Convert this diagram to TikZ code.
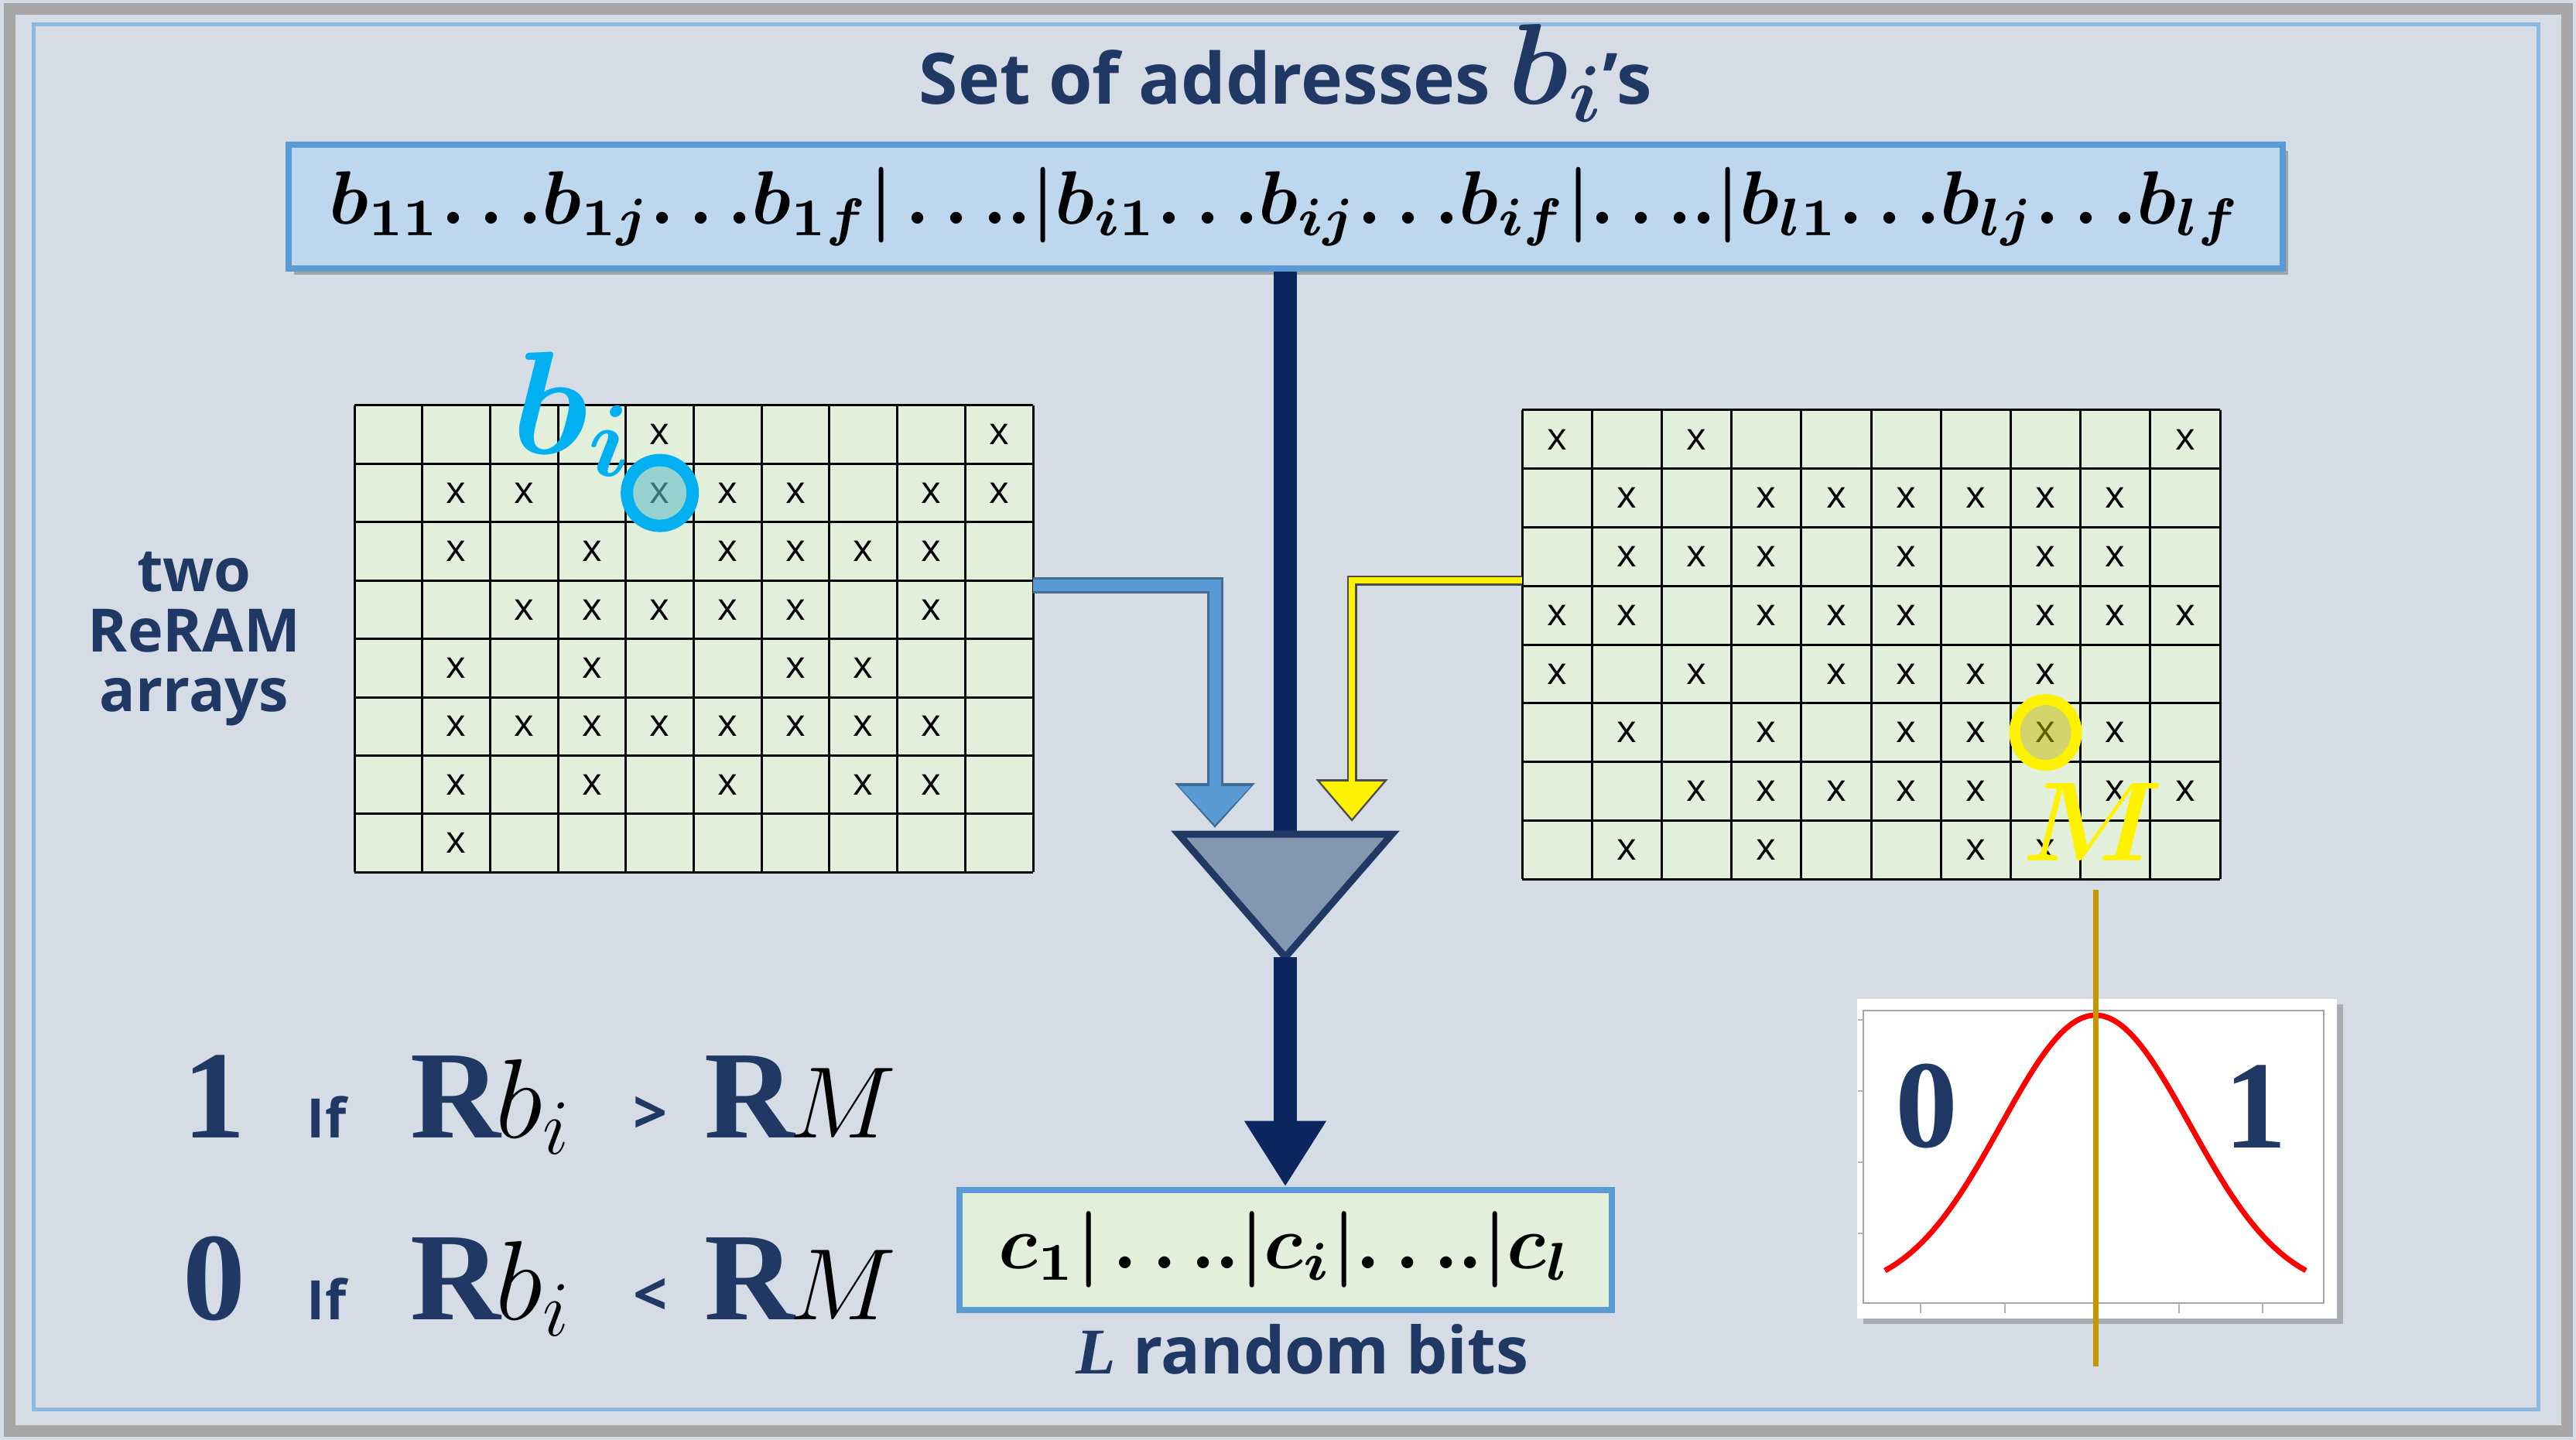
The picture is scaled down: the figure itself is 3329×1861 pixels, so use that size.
\documentclass[tikz,border=0pt]{standalone}
\usepackage{amsmath,bm,graphicx}
\usepackage{fontspec}
\setsansfont{Open Sans}
\newfontfamily\serifb{Liberation Serif}
\usetikzlibrary{shadows,arrows.meta,shapes.geometric}
\definecolor{bg}{HTML}{D6DCE5}
\definecolor{navy}{HTML}{1F3864}
\definecolor{darknavy}{HTML}{0C2660}
\definecolor{addrfill}{HTML}{BDD7EE}
\definecolor{boxline}{HTML}{5B9BD5}
\definecolor{cellfill}{HTML}{E2EFDA}
\definecolor{cyanb}{HTML}{00B0F0}
\definecolor{gold}{HTML}{C89600}
\definecolor{trifill}{HTML}{8497B0}
\newcommand{\fs}[1]{\fontsize{#1}{#1}\selectfont}
\begin{document}
\begin{tikzpicture}[x=0.1mm,y=-0.1mm,
  xm/.style={font=\sffamily\fs{14}, inner sep=0pt},
  gl/.style={line width=0.3mm, black},
  lbl/.style={font=\sffamily\bfseries\fs{26}, text=navy},
  big/.style={font=\serifb\bfseries\fs{46}, text=navy, inner sep=0pt},
  mth/.style={font=\fs{20}, inner sep=0pt}]
\useasboundingbox (0,0) rectangle (3329,1861);
\fill[bg] (0,0) rectangle (3329,1861);
\draw[gray!70, line width=1.5mm] (12,12) rectangle (3317,1849);
\draw[boxline!70, line width=0.5mm] (43,32) rectangle (3280,1821);

% title
\node[lbl, anchor=base] (title) at (1661,135) {Set of addresses \scalebox{1.7}{$\bm{b_i}$}'s};
% address box
\node[draw=boxline, line width=0.8mm, fill=addrfill, minimum width=257.7mm, minimum height=16mm, drop shadow={opacity=0.6}, inner sep=0pt] (addr) at (1661,267)
 {\resizebox{247mm}{!}{$\bm{b_{11}{\ldots}b_{1j}{\ldots}b_{1f}|\,{\ldots}.|b_{i1}{\ldots}b_{ij}{\ldots}b_{if}|{\ldots}.|b_{l1}{\ldots}b_{lj}{\ldots}b_{lf}}$}};

% grids
\begin{scope}[shift={(458,524)}]
\fill[cellfill] (0,0) rectangle (877,603);
\foreach \i in {0,...,10} \draw[gl] ({\i*87.7},0) -- ({\i*87.7},603);
\foreach \j in {0,...,8} \draw[gl] (0,{\j*75.4}) -- (877,{\j*75.4});
\foreach \r/\cols in {0/{4,9},1/{1,2,4,5,6,8,9},2/{1,3,5,6,7,8},3/{2,3,4,5,6,8},4/{1,3,6,7},5/{1,2,3,4,5,6,7,8},6/{1,3,5,7,8},7/{1}}
  \foreach \c in \cols \node[xm] at ({(\c+0.5)*87.7},{(\r+0.5)*75.4}) {x};
\node[circle, draw=cyanb, line width=1.6mm, fill=cyanb!35!teal!60, fill opacity=0.6, minimum size=8.5mm] (bcirc) at ({4.5*87.7},{1.5*75.4}) {};
\end{scope}
\node[font=\fs{20}, text=cyanb, inner sep=0pt] (bilbl) at (740,535) {\scalebox{2.6}{$\bm{b_i}$}};

\begin{scope}[shift={(1967,530)}]
\fill[cellfill] (0,0) rectangle (902,606);
\foreach \i in {0,...,10} \draw[gl] ({\i*90.2},0) -- ({\i*90.2},606);
\foreach \j in {0,...,8} \draw[gl] (0,{\j*75.75}) -- (902,{\j*75.75});
\foreach \r/\cols in {0/{0,2,9},1/{1,3,4,5,6,7,8},2/{1,2,3,5,7,8},3/{0,1,3,4,5,7,8,9},4/{0,2,4,5,6,7},5/{1,3,5,6,7,8},6/{2,3,4,5,6,8,9},7/{1,3,6,7}}
  \foreach \c in \cols \node[xm] at ({(\c+0.5)*90.2},{(\r+0.5)*75.75}) {x};
\node[ellipse, draw=yellow, line width=1.4mm, fill=olive!50!yellow, fill opacity=0.5, minimum width=8mm, minimum height=8.5mm] (mcirc) at ({7.5*90.2},{5.5*75.75}) {};
\end{scope}
\node[font=\fs{20}, text=yellow, inner sep=0pt] (mlbl) at (2705,1062) {\scalebox{2}{$\bm{M}$}};

% two ReRAM arrays
\node[font=\sffamily\bfseries\fs{22}, text=navy, align=center, inner sep=0pt] (two) at (251,826)
  {\fontsize{22}{27}\selectfont two\\ReRAM\\arrays};

% connectors
\coordinate (la) at (1335,756);
\coordinate (lb) at (1570,1070);
\coordinate (ra) at (1967,750);
\coordinate (rb) at (1747,1062);
\draw[boxline!70!black, line width=2.1mm, -{Triangle[width=10mm,length=5.8mm]}] (la) -| (lb);
\draw[boxline, line width=1.5mm, -{Triangle[width=9mm,length=5mm]}, shorten >=0.4mm] (la) -| (lb);
\draw[black!70, line width=1.3mm, -{Triangle[width=9mm,length=5.5mm]}] (ra) -| (rb);
\draw[yellow, line width=0.8mm, -{Triangle[width=8mm,length=4.8mm]}, shorten >=0.4mm] (ra) -| (rb);

\coordinate (tritop) at (1661,1078);
\draw[darknavy, line width=3mm] (addr.south) -- (tritop);
\draw[navy, line width=0.9mm, fill=trifill] (1523,1078) -- (1799,1078) -- (1661,1237) -- cycle;
\coordinate (apex) at (1661,1237);

% output box
\node[draw=boxline, line width=0.8mm, fill=cellfill, minimum width=84.3mm, minimum height=15.5mm, inner sep=0pt] (out) at (1661,1615)
 {\resizebox{74mm}{!}{$\bm{c_1|\,{\ldots}.|c_i|{\ldots}.|c_l}$}};
\draw[darknavy, line width=3mm, -{Triangle[width=10mm,length=8.5mm]}] (apex) -- (out.north);
\node[lbl, anchor=base, font=\sffamily\bfseries\fs{24}] (bits) at (1683,1775) {{\serifb\bfseries\itshape L} random bits};

% formulas
\node[big, anchor=base] (one) at (277,1470) {1};
\node[font=\sffamily\bfseries\fs{20}, text=navy, anchor=base, inner sep=0pt] (if1) at (422,1470) {If};
\node[big, anchor=base west] (r1) at (530,1470) {R};
\node[mth, anchor=base west] (b1) at (640,1470) {\scalebox{2}{$b_i$}};
\node[font=\sffamily\bfseries\fs{22}, text=navy, anchor=base, inner sep=0pt] (gt) at (841,1465) {>};
\node[big, anchor=base west] (r2) at (910,1470) {R};
\node[mth, anchor=base west] (m1) at (1020,1470) {\scalebox{1.8}{$M$}};

\node[big, anchor=base] (zero) at (277,1705) {0};
\node[font=\sffamily\bfseries\fs{20}, text=navy, anchor=base, inner sep=0pt] (if2) at (422,1705) {If};
\node[big, anchor=base west] (r3) at (530,1705) {R};
\node[mth, anchor=base west] (b2) at (640,1705) {\scalebox{2}{$b_i$}};
\node[font=\sffamily\bfseries\fs{22}, text=navy, anchor=base, inner sep=0pt] (lt) at (841,1700) {<};
\node[big, anchor=base west] (r4) at (910,1705) {R};
\node[mth, anchor=base west] (m2) at (1020,1705) {\scalebox{1.8}{$M$}};

% graph
\node[fill=white, minimum width=62mm, minimum height=41.3mm, drop shadow={opacity=0.5}, inner sep=0pt] (graph) at (2710,1497) {};
\draw[gray!70, line width=0.25mm] (2408,1306) rectangle (3003,1684);
\foreach \t in {2482,2591,2816,2924} \draw[gray!60, line width=0.25mm] (\t,1684) -- (\t,1697);
\foreach \t in {1318,1410,1502,1594} \draw[gray!60, line width=0.25mm] (2401,\t) -- (2408,\t);
\draw[red, line width=0.7mm, domain=-2.23:2.23, samples=80] plot ({2708+122*\x},{1672-360*exp(-0.5*\x*\x)});
\node[big] (g0) at (2490,1430) {0};
\node[big] (g1) at (2915,1430) {1};
\coordinate (vtop) at (2708,1150);
\coordinate (vbot) at (2708,1766);
\draw[gold, line width=0.7mm] (vtop) -- (vbot);
\end{tikzpicture}
\end{document}
